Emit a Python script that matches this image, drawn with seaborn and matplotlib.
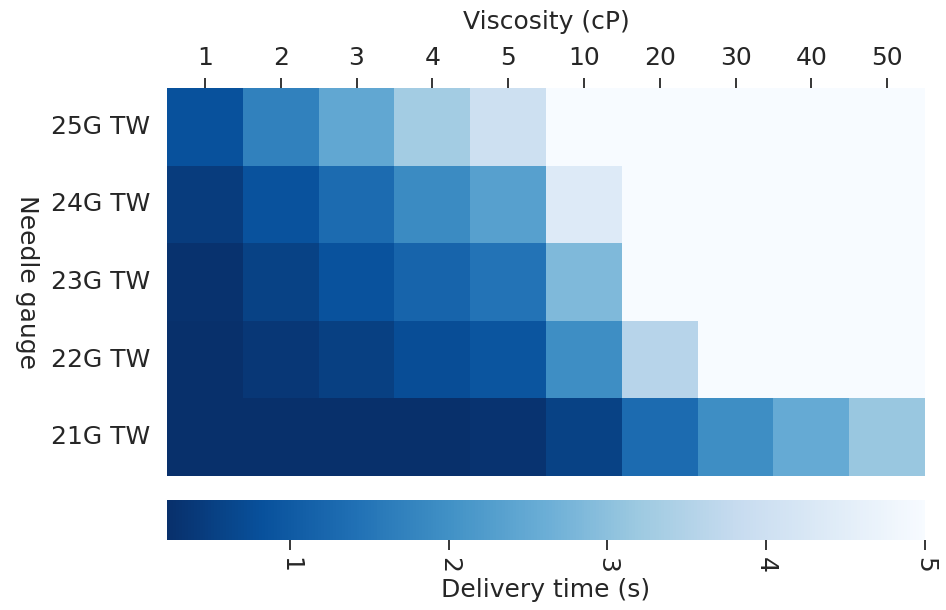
import numpy as np
import pandas as pd
import matplotlib
matplotlib.use("Agg")
import matplotlib.pyplot as plt
import seaborn as sns

viscosity = ["1", "2", "3", "4", "5", "10", "20", "30", "40", "50"]
gauges = ["25G TW", "24G TW", "23G TW", "22G TW", "21G TW"]

row_25g = [0.83, 1.71, 2.47, 3.28, 3.99, 5.0, 5.0, 5.0, 5.0, 5.0]
row_24g = [0.46, 0.85, 1.32, 1.90, 2.33, 4.38, 5.0, 5.0, 5.0, 5.0]
row_23g = [0.27, 0.56, 0.85, 1.18, 1.47, 2.85, 5.0, 5.0, 5.0, 5.0]
row_22g = [0.23, 0.37, 0.51, 0.75, 0.90, 1.95, 3.57, 5.0, 5.0, 5.0]
row_21g = [0.226, 0.23, 0.23, 0.24, 0.30, 0.56, 1.32, 1.95, 2.52, 3.14]

df = pd.DataFrame([row_25g, row_24g, row_23g, row_22g, row_21g],
                  index=gauges, columns=viscosity)

sns.set_style("white")
plt.rcParams["font.family"] = ["DejaVu Sans"]

fig = plt.figure(figsize=(9.46, 6.10), dpi=100)
ax = fig.add_axes([167/946, 1-476/610, (925-167)/946, (476-88)/610])
cax = fig.add_axes([167/946, 1-540/610, (925-167)/946, (540-500)/610])

sns.heatmap(df, ax=ax, cmap="Blues_r", vmin=0.226, vmax=5, cbar=True,
            cbar_ax=cax, cbar_kws={"orientation": "horizontal",
                                   "label": "Delivery time (s)"})

fs = 18
ax.xaxis.tick_top()
ax.xaxis.set_label_position("top")
ax.set_xlabel("Viscosity (cP)", fontsize=fs, labelpad=12)
ax.set_ylabel("Needle gauge", fontsize=fs, rotation=-90, labelpad=26)
ax.tick_params(axis="x", labelsize=fs, length=7, width=1.3, rotation=0, pad=6)
ax.tick_params(axis="y", labelsize=fs, length=7, width=1.3, rotation=0, pad=5)

cax.set_xticks([1, 2, 3, 4, 5])
cax.tick_params(axis="x", labelsize=fs, length=7, width=1.3, labelrotation=270, pad=5)
cax.xaxis.label.set_size(fs)
for sp in cax.spines.values():
    sp.set_visible(False)

fig.savefig("out.png", dpi=100)
